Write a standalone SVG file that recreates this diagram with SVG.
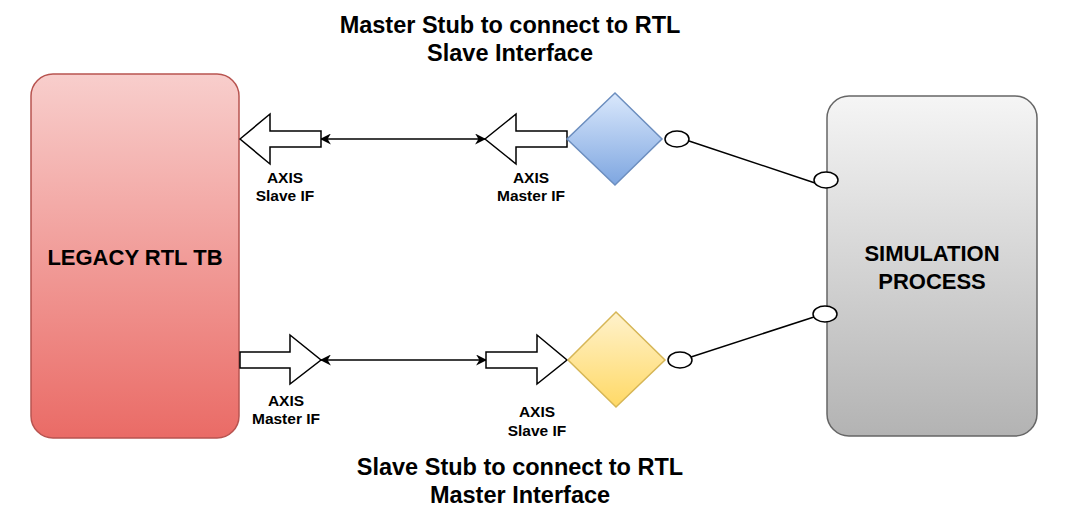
<svg xmlns="http://www.w3.org/2000/svg" width="1082" height="517" viewBox="0 0 1082 517">
<defs>
<linearGradient id="gRed" x1="0" y1="0" x2="0" y2="1"><stop offset="0" stop-color="#f8cecc"/><stop offset="1" stop-color="#ea6b66"/></linearGradient>
<linearGradient id="gGray" x1="0" y1="0" x2="0" y2="1"><stop offset="0" stop-color="#f5f5f5"/><stop offset="1" stop-color="#b3b3b3"/></linearGradient>
<linearGradient id="gBlue" x1="0" y1="0" x2="0" y2="1"><stop offset="0" stop-color="#dae8fc"/><stop offset="1" stop-color="#7ea6e0"/></linearGradient>
<linearGradient id="gYel" x1="0" y1="0" x2="0" y2="1"><stop offset="0" stop-color="#fff2cc"/><stop offset="1" stop-color="#ffd966"/></linearGradient>
<marker id="ah" viewBox="0 0 10 10" refX="9" refY="5" markerWidth="11" markerHeight="11" orient="auto-start-reverse" markerUnits="userSpaceOnUse">
<path d="M0,0 L10,5 L0,10 L3,5 Z" fill="#000"/>
</marker>
</defs>
<style>
.t{font-family:"Liberation Sans",Arial,sans-serif;font-weight:bold;fill:#000;text-anchor:middle}
.s{font-size:15.5px}
.big{font-size:23.5px}
.mid{font-size:22px}
.arr{fill:#fff;stroke:#000;stroke-width:1.5}
.port{fill:#fff;stroke:#000;stroke-width:1.5}
.ln{stroke:#000;stroke-width:1.5;fill:none}
</style>
<g id="titles">
<text class="t big" x="510" y="33">Master Stub to connect to RTL</text>
<text class="t big" x="510" y="61">Slave Interface</text>
<text class="t big" x="520" y="475">Slave Stub to connect to RTL</text>
<text class="t big" x="520" y="503">Master Interface</text>
</g>
<g id="legacy">
<rect x="31" y="74" width="208" height="364" rx="22" fill="url(#gRed)" stroke="#b85450" stroke-width="1.5"/>
<text class="t mid" x="135" y="265">LEGACY RTL TB</text>
</g>
<g id="sim">
<rect x="827" y="96" width="210" height="340" rx="22" fill="url(#gGray)" stroke="#666" stroke-width="1.5"/>
<text class="t mid" x="932" y="261">SIMULATION</text>
<text class="t mid" x="932" y="289">PROCESS</text>
</g>
<g id="connectors">
<line class="ln" x1="321" y1="139" x2="485" y2="139" marker-start="url(#ah)" marker-end="url(#ah)"/>
<line class="ln" x1="321" y1="360" x2="486" y2="360" marker-start="url(#ah)" marker-end="url(#ah)"/>
<line class="ln" x1="689" y1="141" x2="815" y2="183"/>
<line class="ln" x1="691" y1="357" x2="814" y2="317"/>
</g>
<g id="slaveIF-top">
<polygon class="arr" points="240,139 270,114 270,131 321,131 321,147 270,147 270,164"/>
<text class="t s" x="285" y="183">AXIS</text>
<text class="t s" x="285" y="201">Slave IF</text>
</g>
<g id="masterIF-top">
<polygon class="arr" points="485,139 516,114 516,131 567,131 567,147 516,147 516,164"/>
<text class="t s" x="531" y="183">AXIS</text>
<text class="t s" x="531" y="201">Master IF</text>
</g>
<g id="masterStub">
<polygon points="615,93 662,139 615,185 567,139" fill="url(#gBlue)" stroke="#6c8ebf" stroke-width="1.5"/>
<ellipse class="port" cx="677" cy="139" rx="12" ry="8"/>
</g>
<g id="simPortTop">
<ellipse class="port" cx="826" cy="180" rx="12" ry="8"/>
</g>
<g id="masterIF-bottom">
<polygon class="arr" points="240,352 290,352 290,335 321,360 290,384 290,368 240,368"/>
<text class="t s" x="286" y="406">AXIS</text>
<text class="t s" x="286" y="424">Master IF</text>
</g>
<g id="slaveIF-bottom">
<polygon class="arr" points="486,352 537,352 537,335 567,360 537,384 537,368 486,368"/>
<text class="t s" x="537" y="417">AXIS</text>
<text class="t s" x="537" y="436">Slave IF</text>
</g>
<g id="slaveStub">
<polygon points="616,312 665,360 616,407 568,360" fill="url(#gYel)" stroke="#d6b656" stroke-width="1.5"/>
<ellipse class="port" cx="680" cy="360" rx="12" ry="8"/>
</g>
<g id="simPortBottom">
<ellipse class="port" cx="825" cy="314" rx="12" ry="8"/>
</g>
</svg>
